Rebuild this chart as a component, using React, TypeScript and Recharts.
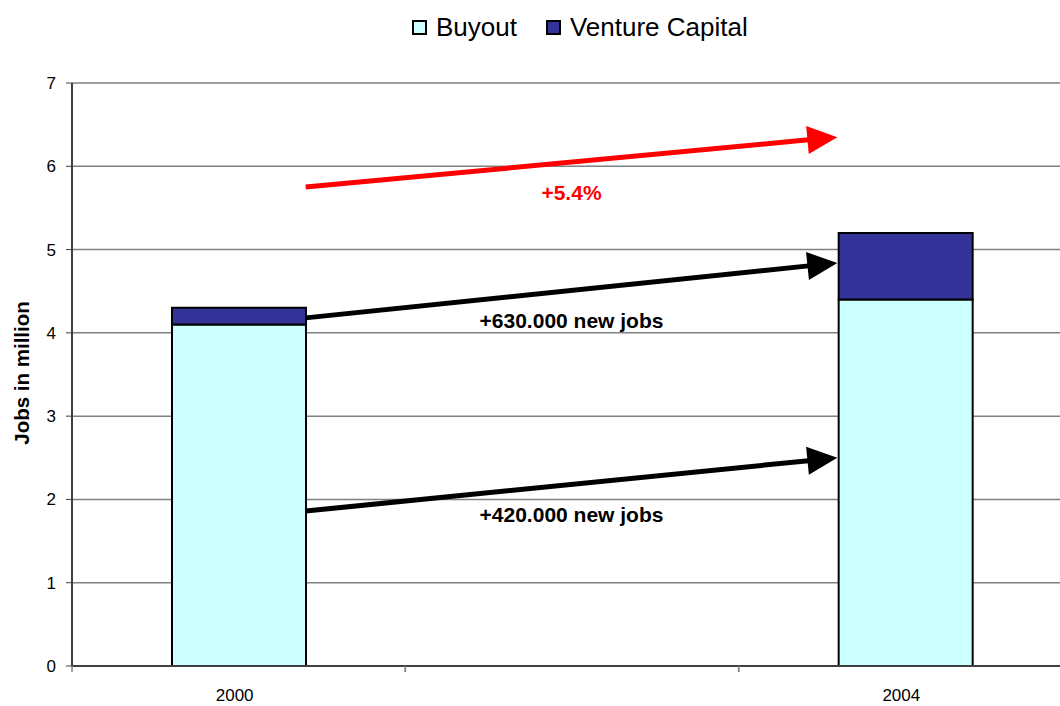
import React from "react";
import {
  BarChart,
  Bar,
  XAxis,
  YAxis,
  CartesianGrid,
  Legend,
  ReferenceLine,
} from "recharts";

const years = ["2000", "", "2004"];
const buyout = [4.1, null, 4.4];
const ventureCapital = [0.2, null, 0.8];
const yTicks = [0, 1, 2, 3, 4, 5, 6, 7];

// arrow annotations: value at the left bar edge -> value at the right bar edge
const jobArrows = [
  { from: 4.18, to: 4.84, label: "+630.000 new jobs" },
  { from: 1.86, to: 2.5, label: "+420.000 new jobs" },
];
const growthArrow = { from: 5.75, to: 6.35, label: "+5.4%" };

const data = years.map((year, i) => ({
  year,
  buyout: buyout[i],
  vc: ventureCapital[i],
}));

const FONT = "'Liberation Sans', Arial, sans-serif";
const CHART_W = 1076;
const MARGIN = { top: 83, right: 4, bottom: 0, left: 0 };
const Y_AXIS_W = 72;
const BAND = (CHART_W - MARGIN.right - Y_AXIS_W) / years.length;
const BAR_W = 134;

const makeArrow = (color: string, label: string) => (props: any) => {
  const { x1, y1, x2, y2 } = props;
  if (x1 == null || x2 == null) return <g />;
  const sx = x1 + BAR_W / 2;
  const ex = x2 - BAR_W / 2 - 1;
  const a = Math.atan2(y2 - y1, ex - sx);
  const cos = Math.cos(a);
  const sin = Math.sin(a);
  const headLen = 30;
  const headHalf = 14;
  const bx = ex - headLen * cos;
  const by = y2 - headLen * sin;
  const pts = [
    [ex, y2],
    [bx - headHalf * sin, by + headHalf * cos],
    [bx + headHalf * sin, by - headHalf * cos],
  ]
    .map((p) => p.join(","))
    .join(" ");
  return (
    <g>
      <line x1={sx} y1={y1} x2={bx + cos} y2={by + sin} stroke={color} strokeWidth={5} />
      <polygon points={pts} fill={color} />
      <text
        x={(sx + ex) / 2}
        y={(y1 + y2) / 2 + 30}
        textAnchor="middle"
        dominantBaseline="central"
        fill={color}
        fontFamily={FONT}
        fontWeight="bold"
        fontSize={21}
      >
        {label}
      </text>
    </g>
  );
};

const XTick = (props: any) => {
  const { x, y, payload } = props;
  return (
    <g>
      <line x1={x - BAND / 2} y1={y - 8} x2={x - BAND / 2} y2={y - 2} stroke="#808080" strokeWidth={1.5} />
      <line x1={x + BAND / 2} y1={y - 8} x2={x + BAND / 2} y2={y - 2} stroke="#808080" strokeWidth={1.5} />
      <text x={x - 4} y={y + 21} textAnchor="middle" dominantBaseline="central" fill="#000" fontFamily={FONT} fontSize={17}>
        {payload.value}
      </text>
    </g>
  );
};

const LegendBox = () => (
  <div style={{ display: "flex", alignItems: "center", fontFamily: FONT, fontSize: 26, color: "#000" }}>
    {[
      { name: "Buyout", color: "#CCFFFF" },
      { name: "Venture Capital", color: "#333399" },
    ].map((item, i) => (
      <div key={item.name} style={{ display: "flex", alignItems: "center", marginRight: i === 0 ? 29 : 0 }}>
        <span
          style={{
            display: "inline-block",
            width: 11,
            height: 11,
            background: item.color,
            border: "2px solid #000",
            marginRight: 9,
          }}
        />
        <span>{item.name}</span>
      </div>
    ))}
  </div>
);

export default function App() {
  return (
    <div
      style={{
        position: "fixed",
        left: 0,
        top: 0,
        width: 1060,
        height: 706,
        overflow: "hidden",
        background: "#fff",
      }}
    >
      <BarChart width={CHART_W} height={706} data={data} margin={MARGIN} barSize={BAR_W}>
        <CartesianGrid horizontal vertical={false} stroke="#808080" strokeWidth={1.5} />
        <XAxis
          dataKey="year"
          height={40}
          axisLine={{ stroke: "#404040", strokeWidth: 2 }}
          tickLine={false}
          tick={<XTick />}
          interval={0}
        />
        <YAxis
          width={Y_AXIS_W}
          domain={[0, 7]}
          ticks={yTicks}
          interval={0}
          axisLine={{ stroke: "#404040", strokeWidth: 2 }}
          tickLine={{ stroke: "#404040" }}
          tickSize={6}
          tickMargin={10}
          tick={{ fill: "#000", fontSize: 17, fontFamily: FONT }}
          label={{
            content: () => (
              <text
                x={0}
                y={0}
                transform="translate(21,373) rotate(-90)"
                textAnchor="middle"
                dominantBaseline="central"
                fontFamily={FONT}
                fontWeight="bold"
                fontSize={20.5}
                fill="#000"
              >
                Jobs in million
              </text>
            ),
          }}
        />
        <Legend
          verticalAlign="middle"
          align="center"
          layout="horizontal"
          wrapperStyle={{ top: 12, left: 412, width: "auto" }}
          content={<LegendBox />}
        />
        <Bar dataKey="buyout" name="Buyout" stackId="a" fill="#CCFFFF" stroke="#000" strokeWidth={2} isAnimationActive={false} />
        <Bar dataKey="vc" name="Venture Capital" stackId="a" fill="#333399" stroke="#000" strokeWidth={2} isAnimationActive={false} />
        <ReferenceLine
          segment={[
            { x: "2000", y: growthArrow.from },
            { x: "2004", y: growthArrow.to },
          ]}
          shape={makeArrow("#FF0000", growthArrow.label)}
        />
        {jobArrows.map((arr) => (
          <ReferenceLine
            key={arr.label}
            segment={[
              { x: "2000", y: arr.from },
              { x: "2004", y: arr.to },
            ]}
            shape={makeArrow("#000", arr.label)}
          />
        ))}
      </BarChart>
    </div>
  );
}
